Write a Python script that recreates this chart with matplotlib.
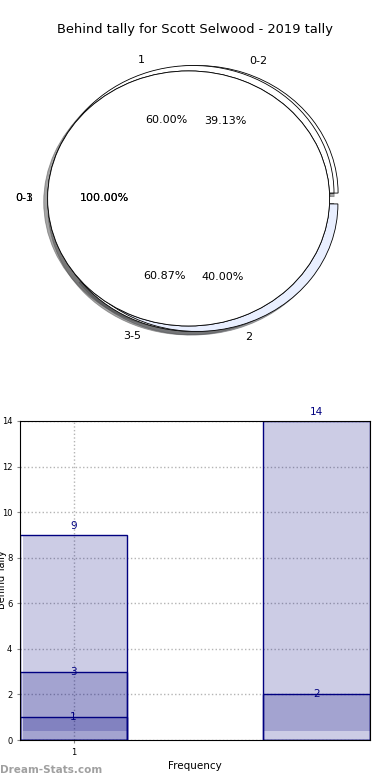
import numpy as np
import matplotlib
matplotlib.use('Agg')
import matplotlib.pyplot as plt

# Pie data (several pies overlaid on one axes)
pie_b_labels = ['0-2', '3-5']
pie_b_values = [9, 14]
pie_a_labels = ['1', '2']
pie_a_values = [3, 2]
pie_c_labels = ['0-3']
pie_c_values = [1]
pie_d_labels = ['0-1']
pie_d_values = [1]

# Bar data
left_vals = [9, 3, 1]
right_vals = [14, 2]
bar_pos = [1, 3.27]
xtick_labels = ['1']

title = "Behind tally for Scott Selwood - 2019 tally"
navy = '#000080'
fill = (0, 0, 0.5, 0.2)

fig = plt.figure(figsize=(3.9, 7.8), dpi=100)
fig.text(0.5, 1 - 30 / 780., title, ha='center', va='center', fontsize=9.4)

# ---- overlaid pies ----
axp = fig.add_axes([0.0480, 0.5412, 0.9038, 0.4087])
wp = {'edgecolor': 'black', 'linewidth': 0.6}
tp = {'fontsize': 8}
ex = 0.045
axp.pie(pie_b_values, labels=pie_b_labels, autopct='%1.2f%%', colors=['white', 'white'],
        explode=[ex] * len(pie_b_values), shadow=True, wedgeprops=wp, textprops=tp)
axp.pie(pie_a_values, labels=pie_a_labels, autopct='%1.2f%%', colors=['white', '#e9efff'],
        explode=[ex] * len(pie_a_values), shadow=True, wedgeprops=wp, textprops=tp)
axp.pie(pie_c_values, labels=pie_c_labels, autopct='%1.2f%%', colors=['white'],
        explode=[ex], shadow=True, wedgeprops=wp, textprops=tp)
axp.pie(pie_d_values, labels=pie_d_labels, autopct='%1.2f%%', colors=['white'],
        explode=[ex], shadow=False, wedgeprops=wp, textprops=tp)
axp.set_aspect('auto')
axp.set_xlim(-1.25, 1.25)
axp.set_ylim(-1.25, 1.25)
axp.axis('off')

# ---- bar chart ----
ax = fig.add_axes([20 / 390., 40 / 780., 350 / 390., 319 / 780.])
w = 1.0
d = 0.028
ax.grid(True, linestyle=':', color='#b4b4b4', linewidth=1)
ax.set_axisbelow(True)

# translucent fills
ax.bar(bar_pos[0] + d / 2, left_vals[0], w - d, color=fill, linewidth=0)
ax.bar(bar_pos[0], left_vals[1], w, color=fill, linewidth=0)
ax.bar(bar_pos[0] + d / 2, left_vals[2] - 0.4, w - d, bottom=0.4, color=fill, linewidth=0)
ax.bar(bar_pos[1], right_vals[0], w, color=fill, linewidth=0)
ax.bar(bar_pos[1], right_vals[1] - 0.4, w, bottom=0.4, color=fill, linewidth=0)

# outlines
for v in left_vals:
    ax.bar(bar_pos[0], v, w, fill=False, edgecolor=navy, linewidth=1)
for v in right_vals:
    ax.bar(bar_pos[1], v, w, fill=False, edgecolor=navy, linewidth=1)

# value labels
for x, vals in zip(bar_pos, [left_vals, right_vals]):
    for i, v in enumerate(vals):
        y = v + 0.4 if i == 0 else v
        ax.text(x, y, str(v), color=navy, ha='center', va='center', fontsize=7.5, clip_on=False)

ax.set_xlim(bar_pos[0] - w / 2, bar_pos[1] + w / 2)
ax.set_ylim(0, 14)
ax.set_yticks(np.arange(0, 15, 2))
ax.set_xticks([1])
ax.set_xticklabels(xtick_labels)
ax.tick_params(labelsize=6, length=2, color='#888888')
ax.set_xlabel('Frequency', fontsize=7.5, labelpad=3)
fig.text(0.004, 1 - 580 / 780., 'Behind Tally', rotation=90, ha='center', va='center', fontsize=7)

fig.text(0.0, 1 - 770 / 780., 'Dream-Stats.com', ha='left', va='center', fontsize=7.5,
         fontweight='bold', color='#a0a0a0')

fig.savefig('out.png', dpi=100)
